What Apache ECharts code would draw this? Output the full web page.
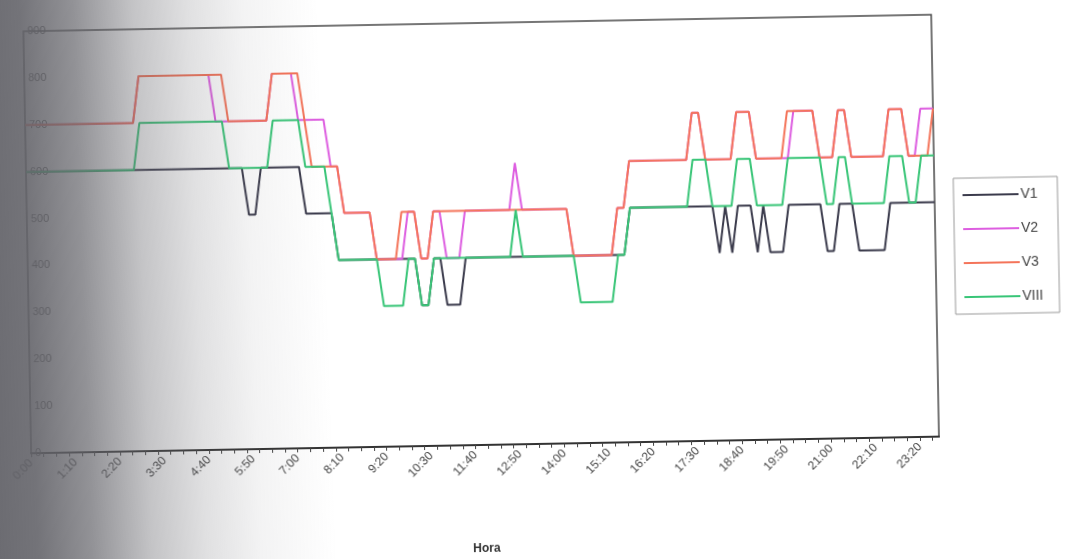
<!DOCTYPE html>
<html>
<head>
<meta charset="utf-8">
<script src="https://cdn.jsdelivr.net/npm/echarts@6/dist/echarts.min.js"></script>
<style>
  html, body { margin: 0; padding: 0; background: #ffffff; overflow: hidden; width: 1069px; height: 559px; }
  #chart { position: absolute; left: 0; top: 0; width: 1069px; height: 559px; transform: rotate(-1.05deg); transform-origin: 50% 50%; }
  #shade { position: absolute; left: 0; top: 0; width: 1069px; height: 559px; pointer-events: none; z-index: 10;
    background: linear-gradient(88deg,
      rgba(100,100,106,0.95) 0%,
      rgba(100,100,106,0.90) 3.5%,
      rgba(100,100,106,0.70) 8.5%,
      rgba(100,100,106,0.38) 14%,
      rgba(100,100,106,0.20) 19%,
      rgba(100,100,106,0.08) 24%,
      rgba(100,100,106,0.0) 31%); }
</style>
</head>
<body>
<div id="chart"></div>
<div id="shade"></div>
<script>
// Time of day, every 10 minutes
const categories = [
  "0:00","0:10","0:20","0:30","0:40","0:50","1:00","1:10","1:20","1:30","1:40","1:50",
  "2:00","2:10","2:20","2:30","2:40","2:50","3:00","3:10","3:20","3:30","3:40","3:50",
  "4:00","4:10","4:20","4:30","4:40","4:50","5:00","5:10","5:20","5:30","5:40","5:50",
  "6:00","6:10","6:20","6:30","6:40","6:50","7:00","7:10","7:20","7:30","7:40","7:50",
  "8:00","8:10","8:20","8:30","8:40","8:50","9:00","9:10","9:20","9:30","9:40","9:50",
  "10:00","10:10","10:20","10:30","10:40","10:50","11:00","11:10","11:20","11:30","11:40","11:50",
  "12:00","12:10","12:20","12:30","12:40","12:50","13:00","13:10","13:20","13:30","13:40","13:50",
  "14:00","14:10","14:20","14:30","14:40","14:50","15:00","15:10","15:20","15:30","15:40","15:50",
  "16:00","16:10","16:20","16:30","16:40","16:50","17:00","17:10","17:20","17:30","17:40","17:50",
  "18:00","18:10","18:20","18:30","18:40","18:50","19:00","19:10","19:20","19:30","19:40","19:50",
  "20:00","20:10","20:20","20:30","20:40","20:50","21:00","21:10","21:20","21:30","21:40","21:50",
  "22:00","22:10","22:20","22:30","22:40","22:50","23:00","23:10","23:20","23:30","23:40","23:50"
];

const v1 = [
  600,600,600,600,600,600,600,600,600,600,600,600,
  600,600,600,600,600,600,600,600,600,600,600,600,
  600,600,600,600,600,600,600,600,600,600,600,500,
  500,600,600,600,600,600,600,600,500,500,500,500,
  500,400,400,400,400,400,400,400,400,400,400,400,
  400,400,300,300,400,400,300,300,300,400,400,400,
  400,400,400,400,400,400,400,400,400,400,400,400,
  400,400,400,400,400,400,400,400,400,400,400,500,
  500,500,500,500,500,500,500,500,500,500,500,500,
  500,400,500,400,500,500,500,400,500,400,400,400,
  500,500,500,500,500,500,400,400,500,500,500,400,
  400,400,400,400,500,500,500,500,500,500,500,500
];

const v2 = [
  700,700,700,700,700,700,700,700,700,700,700,700,
  700,700,700,700,700,700,800,800,800,800,800,800,
  800,800,800,800,800,800,700,700,700,700,700,700,
  700,700,700,800,800,800,800,700,700,700,700,700,
  600,600,500,500,500,500,500,400,400,400,400,400,
  500,500,400,400,500,500,400,400,400,500,500,500,
  500,500,500,500,500,600,500,500,500,500,500,500,
  500,500,400,400,400,400,400,400,400,500,500,600,
  600,600,600,600,600,600,600,600,600,700,700,600,
  600,600,600,600,700,700,700,600,600,600,600,600,
  600,700,700,700,700,600,600,600,700,700,600,600,
  600,600,600,600,700,700,700,600,600,700,700,700
];

const v3 = [
  700,700,700,700,700,700,700,700,700,700,700,700,
  700,700,700,700,700,700,800,800,800,800,800,800,
  800,800,800,800,800,800,800,800,700,700,700,700,
  700,700,700,800,800,800,800,800,700,600,600,600,
  600,600,500,500,500,500,500,400,400,400,400,500,
  500,500,400,400,500,500,500,500,500,500,500,500,
  500,500,500,500,500,500,500,500,500,500,500,500,
  500,500,400,400,400,400,400,400,400,500,500,600,
  600,600,600,600,600,600,600,600,600,700,700,600,
  600,600,600,600,700,700,700,600,600,600,600,600,
  700,700,700,700,700,600,600,600,700,700,600,600,
  600,600,600,600,700,700,700,600,600,600,600,700
];

const v8 = [
  600,600,600,600,600,600,600,600,600,600,600,600,
  600,600,600,600,600,600,700,700,700,700,700,700,
  700,700,700,700,700,700,700,700,600,600,600,600,
  600,600,600,700,700,700,700,700,600,600,600,600,
  500,400,400,400,400,400,400,400,300,300,300,300,
  400,400,300,300,400,400,400,400,400,400,400,400,
  400,400,400,400,400,500,400,400,400,400,400,400,
  400,400,400,300,300,300,300,300,300,400,400,500,
  500,500,500,500,500,500,500,500,500,600,600,600,
  500,500,500,500,600,600,600,500,500,500,500,500,
  600,600,600,600,600,600,500,500,600,600,500,500,
  500,500,500,500,600,600,600,500,500,600,600,600
];

const seriesNames = ["V1", "V2", "V3", "VIII"];
const seriesColors = ["#3b3b4c", "#dd5ee0", "#f4745a", "#38c577"];
const yMin = 0, yMax = 900, yStep = 100;

const chart = echarts.init(document.getElementById('chart'), null, { renderer: 'canvas' });
const dataSets = [v1, v2, v3, v8];

chart.setOption({
  animation: false,
  backgroundColor: 'transparent',
  textStyle: { fontFamily: 'Liberation Sans, Arial, sans-serif' },
  grid: { left: 28, right: 133, top: 22, bottom: 109, show: true, borderColor: '#4a4a4a', borderWidth: 1.5 },
  legend: {
    orient: 'vertical',
    left: 955, top: 186,
    padding: [10, 16, 10, 9],
    itemGap: 20,
    icon: 'rect',
    itemWidth: 56, itemHeight: 2,
    borderColor: '#9a9a9a', borderWidth: 1,
    textStyle: { fontSize: 14, lineHeight: 14, height: 14, color: '#444', padding: [0, 0, 0, -3], fontFamily: 'Liberation Sans, Arial, sans-serif' },
    data: seriesNames
  },
  xAxis: {
    type: 'category',
    data: categories,
    boundaryGap: false,
    name: 'Hora',
    nameLocation: 'middle',
    nameGap: 98,
    nameTextStyle: { fontSize: 12, fontWeight: 'bold', color: '#333' },
    axisLine: { lineStyle: { color: '#333', width: 2 } },
    axisTick: { show: true, interval: 1, length: 4, lineStyle: { color: '#444' } },
    axisLabel: { interval: 6, rotate: 45, fontSize: 12, color: '#444', margin: 8 },
    splitLine: { show: false }
  },
  yAxis: {
    type: 'value',
    min: yMin, max: yMax, interval: yStep,
    axisLine: { show: false },
    axisTick: { show: false },
    splitLine: { show: false },
    axisLabel: { inside: true, margin: 4, fontSize: 11, color: '#4a4a4a' }
  },
  series: seriesNames.map((n, i) => ({
    name: n,
    type: 'line',
    data: dataSets[i],
    symbol: 'none',
    lineStyle: { width: 2, color: seriesColors[i] },
    itemStyle: { color: seriesColors[i] }
  }))
});
</script>
</body>
</html>
